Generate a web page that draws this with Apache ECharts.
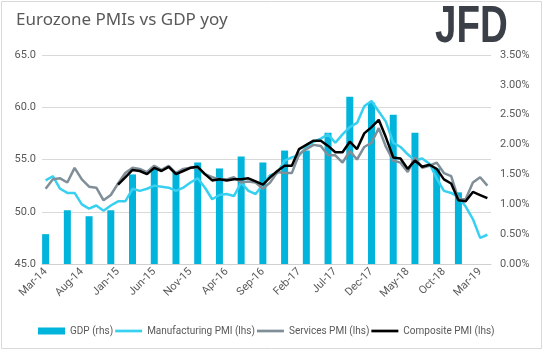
<!DOCTYPE html>
<html>
<head>
<meta charset="utf-8">
<script src="https://cdn.jsdelivr.net/npm/echarts@6/dist/echarts.min.js"></script>
<style>
  html, body { margin: 0; padding: 0; background: #fff; }
  #chart { width: 543px; height: 351px; }
</style>
</head>
<body>
<div id="chart"></div>
<script>
  // monthly categories, Mar-14 .. Apr-19
  var monthNames = ['Jan', 'Feb', 'Mar', 'Apr', 'May', 'Jun', 'Jul', 'Aug', 'Sep', 'Oct', 'Nov', 'Dec'];
  var months = [];
  for (var k = 2; k < 2 + 62; k++) {
    months.push(monthNames[k % 12] + '-' + (14 + Math.floor(k / 12)));
  }

  // GDP yoy %, quarterly (Mar-14 .. Dec-18)
  var gdpQuarterly = [0.5, 0.9, 0.8, 0.9, 1.5, 1.6, 1.55, 1.7, 1.6, 1.8,
                      1.7, 1.9, 1.9, 2.2, 2.8, 2.7, 2.5, 2.2, 1.6, 1.2];

  var manufacturing = [
    53.0, 53.4, 52.2, 51.8, 51.8, 50.7, 50.3, 50.6, 50.1, 50.6,
    51.0, 51.0, 52.2, 52.0, 52.2, 52.5, 52.4, 52.3, 52.0, 52.3, 52.8, 53.2,
    52.3, 51.2, 51.6, 51.7, 51.5, 52.8, 52.0, 51.7, 52.6, 53.5, 53.7, 54.9,
    55.2, 55.4, 56.2, 56.7, 57.0, 57.4, 56.6, 57.4, 58.1, 58.5, 60.1, 60.6,
    59.6, 58.6, 56.6, 56.2, 55.5, 54.9, 55.1, 54.6, 53.2, 52.0, 51.8, 51.4,
    50.5, 49.3, 47.5, 47.8
  ];

  var services = [
    52.2, 53.1, 53.2, 52.8, 54.2, 53.1, 52.4, 52.3, 51.1, 51.6,
    52.7, 53.7, 54.2, 54.1, 53.8, 54.4, 54.0, 54.4, 53.7, 54.1, 54.2, 54.2,
    53.6, 53.3, 53.1, 53.1, 53.3, 52.8, 52.9, 52.8, 52.2, 52.8, 53.8, 53.7,
    53.7, 55.5, 56.0, 56.4, 56.3, 55.4, 55.4, 54.7, 55.8, 55.0, 56.2, 56.6,
    58.0, 56.2, 54.9, 54.7, 53.8, 55.2, 54.2, 54.4, 54.7, 53.7, 53.4, 51.2,
    51.2, 52.8, 53.3, 52.5
  ];

  // composite starts Jan-15
  var composite = [
    null, null, null, null, null, null, null, null, null, null,
    52.6, 53.3, 54.0, 53.9, 53.6, 54.2, 53.9, 54.3, 53.6, 53.9, 54.2, 54.3,
    53.6, 53.0, 53.1, 53.0, 53.1, 53.1, 53.2, 52.9, 52.6, 53.3, 53.9, 54.4,
    54.4, 56.0, 56.4, 56.8, 56.8, 56.3, 55.7, 55.7, 56.7, 56.0, 57.5, 58.1,
    58.8, 57.1, 55.2, 55.1, 54.1, 54.9, 54.3, 54.5, 54.1, 53.1, 52.7, 51.1,
    51.0, 51.9, 51.6, 51.3
  ];

  // put quarterly GDP on the monthly axis
  var gdp = months.map(function () { return null; });
  gdpQuarterly.forEach(function (v, i) { gdp[i * 3] = v; });

  var txt = '#595959';
  var font = 'Roboto';
  var lineIcon = 'path://M0,0h30v3h-30z';

  var myChart = echarts.init(document.getElementById('chart'));
  myChart.setOption({
    animation: false,
    textStyle: { fontFamily: font },
    graphic: [
      {
        type: 'rect', shape: { x: 1.5, y: 1.5, width: 540, height: 347 },
        style: { fill: 'none', stroke: '#D9D9D9', lineWidth: 1 }, silent: true
      },
      {
        type: 'text', left: 16, top: 12,
        style: { text: 'Eurozone PMIs vs GDP yoy', fill: txt, font: '17px "Noto Sans"' }
      },
      {
        type: 'text', x: 435, y: 28, scaleX: 0.74,
        style: { text: 'JFD', fill: '#3B4048', font: 'bold 52px "Liberation Sans"', textVerticalAlign: 'middle' }
      }
    ],
    grid: { left: 42, right: 52, top: 55, bottom: 87 },
    legend: {
      left: 33, top: 321, width: 520,
      itemWidth: 27, itemHeight: 7, itemGap: 2,
      textStyle: { color: txt, fontSize: 10, fontFamily: font },
      data: [
        { name: 'GDP (rhs)', icon: 'rect' },
        { name: 'Manufacturing PMI (lhs)', icon: lineIcon },
        { name: 'Services PMI (lhs)', icon: lineIcon },
        { name: 'Composite PMI (lhs)', icon: lineIcon }
      ]
    },
    xAxis: {
      type: 'category',
      data: months,
      boundaryGap: true,
      axisLine: { lineStyle: { color: '#D0D0D0' } },
      axisTick: { interval: 4, length: 5, lineStyle: { color: '#D0D0D0' } },
      axisLabel: { interval: 4, rotate: 45, color: txt, fontSize: 11, margin: 6 }
    },
    yAxis: [
      {
        type: 'value', min: 45, max: 65, interval: 5,
        axisLine: { show: false }, axisTick: { show: false },
        splitLine: { lineStyle: { color: '#D9D9D9' } },
        axisLabel: { color: txt, fontSize: 11, margin: 6, formatter: function (v) { return v.toFixed(1); } }
      },
      {
        type: 'value', min: 0, max: 3.5, interval: 0.5, position: 'right',
        axisLine: { show: false }, axisTick: { show: false },
        splitLine: { show: false },
        axisLabel: { color: txt, fontSize: 11, margin: 9, formatter: function (v) { return v.toFixed(2) + '%'; } }
      }
    ],
    series: [
      {
        name: 'GDP (rhs)', type: 'bar', yAxisIndex: 1, data: gdp,
        barWidth: 7, itemStyle: { color: '#00B4DC' }
      },
      {
        name: 'Manufacturing PMI (lhs)', type: 'line', data: manufacturing,
        symbol: 'none', lineStyle: { color: '#38D0F0', width: 2.5 }, itemStyle: { color: '#38D0F0' }
      },
      {
        name: 'Services PMI (lhs)', type: 'line', data: services,
        symbol: 'none', lineStyle: { color: '#7F8E97', width: 2.5 }, itemStyle: { color: '#7F8E97' }
      },
      {
        name: 'Composite PMI (lhs)', type: 'line', data: composite,
        symbol: 'none', lineStyle: { color: '#000000', width: 2.5 }, itemStyle: { color: '#000000' }
      }
    ]
  });
</script>
</body>
</html>
